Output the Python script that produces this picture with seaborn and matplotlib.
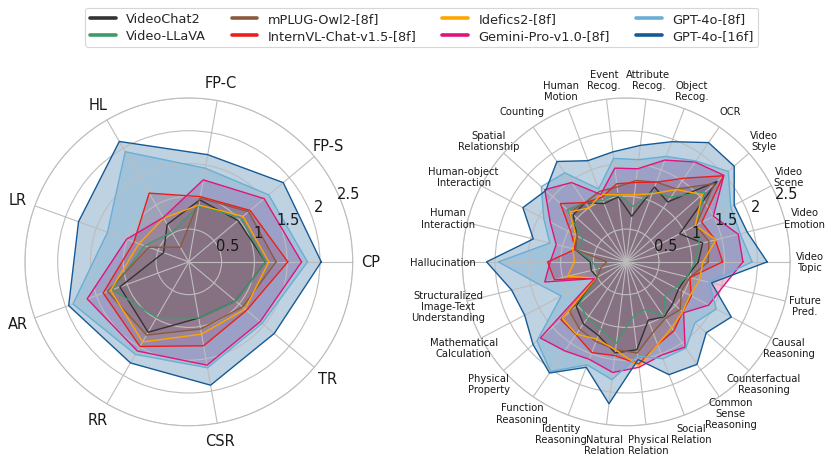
import numpy as np
import matplotlib
matplotlib.use("Agg")
import matplotlib.pyplot as plt
import seaborn as sns
from matplotlib.lines import Line2D

# ---------------- data ----------------
models = ["VideoChat2", "Video-LLaVA", "mPLUG-Owl2-[8f]", "InternVL-Chat-v1.5-[8f]",
          "Idefics2-[8f]", "Gemini-Pro-v1.0-[8f]", "GPT-4o-[8f]", "GPT-4o-[16f]"]
colors = ["#333333", "#3f9a6e", "#8b5a3c", "#e8201c", "#ffa500", "#e0147a", "#6aaed6", "#155a96"]

left_cats = ["CP", "FP-S", "FP-C", "HL", "LR", "AR", "RR", "CSR", "TR"]
left_videochat2 = [1.17, 0.98, 0.96, 0.66, 0.41, 1.12, 1.24, 0.87, 0.93]
left_videollava = [1.17, 1.04, 0.87, 0.52, 0.72, 1.24, 0.98, 0.87, 0.93]
left_mplug = [1.33, 1.19, 0.99, 0.26, 0.65, 1.32, 1.29, 1.04, 1.07]
left_internvl = [1.51, 1.22, 1.01, 1.21, 0.89, 1.39, 1.49, 1.30, 1.15]
left_idefics2 = [1.22, 1.08, 0.88, 0.77, 0.81, 1.27, 1.41, 1.12, 1.12]
left_gemini = [1.72, 1.50, 1.27, 0.78, 1.01, 1.65, 1.57, 1.60, 1.42]
left_gpt4o_8f = [1.81, 1.59, 1.45, 1.94, 1.32, 1.88, 1.63, 1.64, 1.46]
left_gpt4o_16f = [2.02, 1.88, 1.66, 2.12, 1.79, 1.95, 1.78, 1.91, 1.70]

right_cats = ["Video\nTopic", "Video\nEmotion", "Video\nScene", "Video\nStyle", "OCR",
              "Object\nRecog.", "Attribute\nRecog.", "Event\nRecog.", "Human\nMotion",
              "Counting", "Spatial\nRelationship", "Human-object\nInteraction",
              "Human\nInteraction", "Hallucination",
              "Structuralized\nImage-Text\nUnderstanding", "Mathematical\nCalculation",
              "Physical\nProperty", "Function\nReasoning", "Identity\nReasoning",
              "Natural\nRelation", "Physical\nRelation", "Social\nRelation",
              "Common\nSense\nReasoning", "Counterfactual\nReasoning",
              "Causal\nReasoning", "Future\nPred."]
right_videochat2 = [1.10, 1.20, 0.92, 1.85, 1.11, 1.22, 0.70, 1.00, 0.95, 1.10, 1.08, 0.85, 0.80,
                    0.55, 0.55, 0.50, 1.02, 1.15, 1.20, 1.40, 1.35, 0.95, 1.02, 0.95, 0.90, 0.95]
right_videollava = [1.05, 1.15, 1.20, 1.60, 1.20, 1.15, 0.85, 1.05, 1.00, 1.10, 1.20, 0.75, 0.78,
                    0.52, 0.45, 0.50, 0.95, 1.05, 1.10, 1.25, 0.85, 0.78, 1.00, 0.79, 0.85, 0.95]
right_mplug = [1.25, 1.30, 1.20, 1.80, 1.35, 1.30, 1.25, 1.15, 1.15, 1.10, 1.15, 0.85, 0.80,
               0.30, 0.40, 0.50, 1.15, 1.25, 1.30, 1.35, 1.40, 1.15, 1.05, 1.10, 0.95, 1.00]
right_internvl = [1.47, 1.40, 1.30, 1.98, 1.55, 1.30, 1.22, 1.20, 1.05, 1.10, 1.34, 0.95, 0.80,
                  1.20, 1.13, 0.53, 1.33, 1.35, 1.48, 1.44, 1.57, 1.35, 1.28, 1.15, 1.12, 1.00]
right_idefics2 = [1.17, 1.41, 1.19, 1.55, 1.34, 1.11, 1.03, 1.03, 1.10, 1.00, 1.15, 0.87, 0.84,
                  0.79, 0.92, 0.53, 1.30, 1.34, 1.26, 1.35, 1.60, 1.35, 1.22, 1.15, 1.10, 1.15]
right_gemini = [1.78, 1.76, 1.50, 1.99, 1.85, 1.66, 1.43, 1.44, 1.10, 1.47, 1.66, 1.31, 1.10,
                1.16, 1.28, 0.55, 1.75, 1.65, 1.59, 1.70, 1.62, 1.52, 1.58, 1.17, 1.42, 1.53]
right_gpt4o_8f = [1.92, 1.79, 1.80, 2.08, 1.87, 1.72, 1.57, 1.59, 1.19, 1.65, 1.73, 1.42, 1.20,
                  1.95, 1.39, 1.12, 1.82, 2.03, 1.68, 1.81, 1.45, 1.58, 1.60, 1.40, 1.55, 1.30]
right_gpt4o_16f = [2.15, 1.90, 1.86, 2.20, 2.21, 1.96, 1.79, 1.69, 1.65, 1.86, 1.64, 1.78, 1.46,
                   2.13, 1.80, 1.75, 1.90, 2.06, 1.72, 2.18, 1.50, 1.84, 1.90, 1.63, 1.81, 1.34]

r_ticks = [0.5, 1, 1.5, 2, 2.5]
r_tick_labels = ["0.5", "1", "1.5", "2", "2.5"]

left_series = [left_videochat2, left_videollava, left_mplug, left_internvl,
               left_idefics2, left_gemini, left_gpt4o_8f, left_gpt4o_16f]
right_series = [right_videochat2, right_videollava, right_mplug, right_internvl,
                right_idefics2, right_gemini, right_gpt4o_8f, right_gpt4o_16f]

# ---------------- style ----------------
sns.set_theme(style="white")
plt.rcParams["font.family"] = ["DejaVu Sans"]
GRID = "#bdbdbd"

fig = plt.figure(figsize=(8.3, 4.64), dpi=100)


def radar(rect, cats, series, label_size, label_r):
    ax = fig.add_axes(rect, projection="polar")
    n = len(cats)
    ang = np.linspace(0, 2 * np.pi, n, endpoint=False)
    a = np.concatenate([ang, ang[:1]])
    for i in range(len(series)):
        vals = np.asarray(series[i], dtype=float)
        v = np.concatenate([vals, vals[:1]])
        ax.fill(a, v, color=colors[i], alpha=0.27, lw=0, zorder=1 + 0.01 * i)
        ax.plot(a, v, color=colors[i], lw=1.0, zorder=3 + 0.01 * i)
    ax.set_ylim(0, 2.5)
    ax.set_xticks(ang)
    ax.set_xticklabels([])
    ax.set_yticks(r_ticks)
    ax.set_yticklabels([])
    ax.set_axisbelow(False)
    ax.grid(True, color=GRID, lw=0.8)
    for gl in ax.get_xgridlines() + ax.get_ygridlines():
        gl.set_zorder(2)
    ax.spines["polar"].set_color(GRID)
    ax.spines["polar"].set_linewidth(0.8)
    ax.set_facecolor("white")
    for t, lab in zip(ang, cats):
        ax.text(t, label_r, lab, ha="center", va="center", fontsize=label_size,
                color="#1a1a1a", linespacing=1.15)
    for rv, lab in zip(r_ticks, r_tick_labels):
        ax.text(np.deg2rad(23), rv + 0.15, lab, ha="center", va="center",
                fontsize=10.5, color="#1a1a1a", zorder=5)
    return ax


radar([0.030, 0.080, 0.395, 0.707], left_cats, left_series, 10.5, 2.77)
radar([0.557, 0.080, 0.395, 0.707], right_cats, right_series, 7.2, 2.8)

handles = [Line2D([0], [0], color=c, lw=2.6) for c in colors]
leg = fig.legend(handles, models, loc="upper center", bbox_to_anchor=(0.508, 0.995),
                 ncol=4, frameon=True, fontsize=9.3, handlelength=2.0,
                 columnspacing=2.0, handletextpad=0.8, labelspacing=0.3,
                 borderpad=0.35)
leg.get_frame().set_edgecolor("#cccccc")
leg.get_frame().set_linewidth(0.8)

fig.savefig("out.png", dpi=100, facecolor="white")
